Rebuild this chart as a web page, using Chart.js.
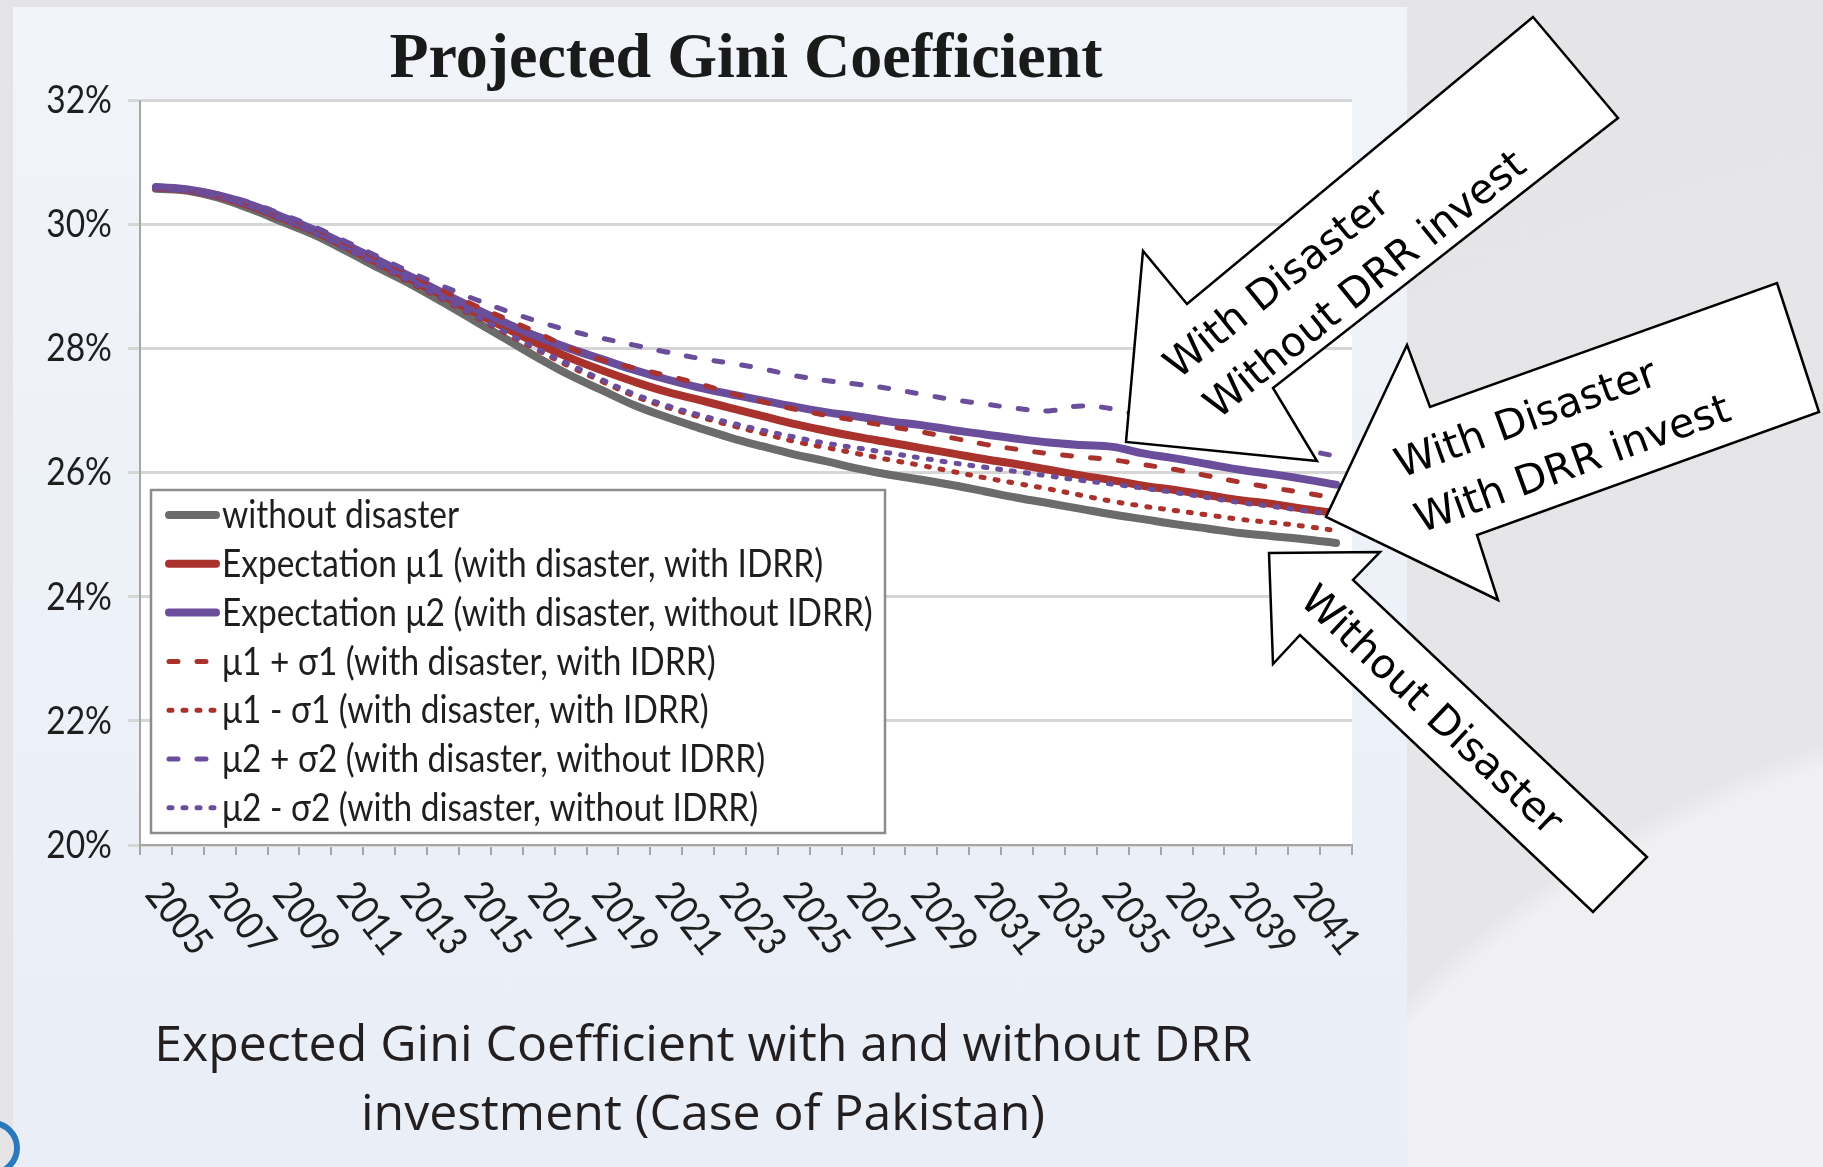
<!DOCTYPE html>
<html>
<head>
<meta charset="utf-8">
<script src="https://cdn.jsdelivr.net/npm/chart.js@4.4.0/dist/chart.umd.min.js"></script>
<style>
  html, body { margin: 0; padding: 0; }
  body { width: 1823px; height: 1167px; overflow: hidden; position: relative;
         background: radial-gradient(circle at 2150px 1750px, #f2f2f4 0, #f0f0f2 1035px, #e6e6e9 1060px, #e4e4e7 100%); }
  #panel { position: absolute; left: 13px; top: 7px; width: 1394px; height: 1160px;
           background: linear-gradient(#f1f4f9, #e9eef7); }
  #logo { position: absolute; left: -36px; top: 1120px; width: 44px; height: 44px;
          border: 6px solid #2a78bd; border-radius: 50%; }
  #caption { position: absolute; left: 103px; width: 1200px; top: 1008px; text-align: center;
             font-family: 'Open Sans', sans-serif; font-size: 50px; line-height: 69px; color: #231f20; }
  #gini { position: absolute; left: 0; top: 0; }
</style>
</head>
<body>
<div id="panel"></div>
<div id="logo"></div>
<div id="caption">Expected Gini Coefficient with and without DRR<br>investment (Case of Pakistan)</div>
<canvas id="gini" width="1823" height="1167"></canvas>
<script>
const years = ['2005', '2006', '2007', '2008', '2009', '2010', '2011', '2012', '2013', '2014',
  '2015', '2016', '2017', '2018', '2019', '2020', '2021', '2022', '2023', '2024',
  '2025', '2026', '2027', '2028', '2029', '2030', '2031', '2032', '2033', '2034',
  '2035', '2036', '2037', '2038', '2039', '2040', '2041', '2042'];

// Gini coefficient, %
const withoutDisaster = [30.58, 30.55, 30.43, 30.25, 30.04, 29.83, 29.57, 29.30, 29.04, 28.75,
  28.45, 28.15, 27.85, 27.57, 27.33, 27.09, 26.90, 26.73, 26.57, 26.43,
  26.30, 26.19, 26.07, 25.97, 25.89, 25.80, 25.70, 25.60, 25.51, 25.42,
  25.33, 25.25, 25.17, 25.10, 25.03, 24.98, 24.93, 24.87];
const mu1 = [30.60, 30.56, 30.46, 30.30, 30.10, 29.89, 29.64, 29.38, 29.12, 28.86,
  28.59, 28.33, 28.08, 27.85, 27.65, 27.47, 27.31, 27.18, 27.05, 26.92,
  26.79, 26.68, 26.58, 26.49, 26.40, 26.31, 26.22, 26.14, 26.05, 25.96,
  25.88, 25.79, 25.72, 25.64, 25.56, 25.50, 25.42, 25.35];
const mu2 = [30.61, 30.57, 30.47, 30.32, 30.12, 29.91, 29.67, 29.42, 29.16, 28.90,
  28.65, 28.41, 28.19, 28.00, 27.83, 27.66, 27.51, 27.38, 27.27, 27.17,
  27.07, 26.98, 26.91, 26.83, 26.77, 26.69, 26.62, 26.55, 26.49, 26.45,
  26.42, 26.31, 26.23, 26.14, 26.05, 25.98, 25.90, 25.81];
const mu1PlusSigma = [30.60, 30.57, 30.47, 30.33, 30.14, 29.94, 29.70, 29.45, 29.20, 28.94,
  28.70, 28.48, 28.25, 28.01, 27.82, 27.69, 27.57, 27.44, 27.29, 27.15,
  27.03, 26.93, 26.84, 26.75, 26.66, 26.56, 26.46, 26.38, 26.31, 26.26,
  26.21, 26.13, 26.05, 25.95, 25.85, 25.76, 25.68, 25.59];
const mu1MinusSigma = [30.60, 30.56, 30.45, 30.29, 30.08, 29.86, 29.60, 29.33, 29.06, 28.79,
  28.52, 28.24, 27.97, 27.71, 27.47, 27.24, 27.06, 26.91, 26.77, 26.64,
  26.51, 26.41, 26.31, 26.21, 26.12, 26.02, 25.92, 25.83, 25.74, 25.64,
  25.54, 25.46, 25.39, 25.32, 25.25, 25.20, 25.14, 25.07];
const mu2PlusSigma = [30.61, 30.58, 30.49, 30.35, 30.16, 29.96, 29.72, 29.48, 29.23, 29.01,
  28.80, 28.61, 28.44, 28.29, 28.17, 28.06, 27.95, 27.85, 27.77, 27.68,
  27.57, 27.49, 27.43, 27.36, 27.27, 27.18, 27.11, 27.04, 27.00, 27.08,
  27.03, 26.90, 26.78, 26.67, 26.56, 26.46, 26.37, 26.27];
const mu2MinusSigma = [30.60, 30.56, 30.45, 30.29, 30.08, 29.86, 29.60, 29.34, 29.08, 28.81,
  28.54, 28.26, 27.99, 27.74, 27.50, 27.27, 27.09, 26.94, 26.81, 26.69,
  26.58, 26.48, 26.40, 26.32, 26.24, 26.16, 26.09, 26.02, 25.95, 25.88,
  25.82, 25.75, 25.68, 25.60, 25.52, 25.46, 25.39, 25.32];

const GRAY = '#6b6b6b';
const RED = '#a9322d';
const PURPLE = '#6a4d9b';
const DASH = [9, 19];
const DOT = [3, 11];

// the original uses a tall, narrow office font: Lato squeezed sideways
const textFont = 'Lato, sans-serif';
const INK = '#1e1e1e';

function squeezedText(ctx, text, x, y, squeeze, angle) {
  ctx.save();
  ctx.translate(x, y);
  if (angle) ctx.rotate(angle * Math.PI / 180);
  ctx.scale(squeeze, 1);
  ctx.fillText(text, 0, 0);
  ctx.restore();
}

function solid(label, data, color) {
  return { label, data, borderColor: color, borderWidth: 8, borderCapStyle: 'round' };
}
function broken(label, data, color, dash) {
  return { label, data, borderColor: color, borderWidth: 5, borderDash: dash, borderCapStyle: 'round' };
}

const datasets = [
  solid('without disaster', withoutDisaster, GRAY),
  solid('Expectation \u03bc1 (with disaster, with IDRR)', mu1, RED),
  solid('Expectation \u03bc2 (with disaster, without IDRR)', mu2, PURPLE),
  broken('\u03bc1 + \u03c31 (with disaster, with IDRR)', mu1PlusSigma, RED, DASH),
  broken('\u03bc1 - \u03c31 (with disaster, with IDRR)', mu1MinusSigma, RED, DOT),
  broken('\u03bc2 + \u03c32 (with disaster, without IDRR)', mu2PlusSigma, PURPLE, DASH),
  broken('\u03bc2 - \u03c32 (with disaster, without IDRR)', mu2MinusSigma, PURPLE, DOT)
];
// Excel draws later series on top
datasets.forEach((d, i) => { d.order = datasets.length - i; });

// white plot area
const plotBackground = {
  id: 'plotBackground',
  beforeDraw(chart) {
    const { ctx, chartArea: a } = chart;
    ctx.save();
    ctx.fillStyle = '#ffffff';
    ctx.fillRect(a.left, a.top, a.right - a.left, a.bottom - a.top);
    ctx.restore();
  }
};

// axis labels: percent on y, every second year rotated on x
const axisLabels = {
  id: 'axisLabels',
  afterDraw(chart) {
    const ctx = chart.ctx;
    const xs = chart.scales.x, ys = chart.scales.y;
    ctx.save();
    ctx.fillStyle = INK;
    ctx.font = '39px ' + textFont;
    ctx.textAlign = 'right';
    ctx.textBaseline = 'middle';
    ys.ticks.forEach(t => {
      squeezedText(ctx, t.label, ys.right - 28, ys.getPixelForValue(t.value), 0.86);
    });
    ctx.font = '40px ' + textFont;
    ctx.textAlign = 'left';
    years.forEach((yr, i) => {
      if (i % 2) return;
      squeezedText(ctx, yr, xs.getPixelForValue(i) - 2, xs.top + 42, 0.86, 52);
    });
    ctx.restore();
  }
};

// legend box inside the plot
const boxLegend = {
  id: 'boxLegend',
  afterDatasetsDraw(chart) {
    const ctx = chart.ctx;
    const left = 151, top = 490, w = 734, h = 343, rowH = 48.8;
    ctx.save();
    ctx.fillStyle = '#ffffff';
    ctx.fillRect(left, top, w, h);
    ctx.strokeStyle = '#8c8c8c';
    ctx.lineWidth = 2.5;
    ctx.strokeRect(left, top, w, h);
    ctx.font = '38px ' + textFont;
    ctx.fillStyle = INK;
    ctx.textBaseline = 'middle';
    chart.data.datasets.forEach((d, i) => {
      const y = top + 25 + i * rowH;
      ctx.save();
      ctx.strokeStyle = d.borderColor;
      ctx.lineWidth = d.borderWidth;
      ctx.lineCap = 'round';
      ctx.setLineDash(d.borderDash || []);
      ctx.beginPath();
      ctx.moveTo(169, y);
      ctx.lineTo(216, y);
      ctx.stroke();
      ctx.restore();
      squeezedText(ctx, d.label, 222, y + 1, 0.88);
    });
    ctx.restore();
  }
};

// callout arrows drawn over the right side
const callouts = [
  { pts: [[1533, 17], [1618, 118], [1273, 388], [1317, 461], [1126, 442], [1143, 251], [1187, 304]],
    angle: -38.9, lines: [['With Disaster', 1178, 380], ['Without DRR invest', 1218, 420]], align: 'left' },
  { pts: [[1777, 283], [1819, 412], [1477, 535], [1498, 600], [1326, 517], [1407, 345], [1430, 407]],
    angle: -20, lines: [['With Disaster', 1401, 478], ['With DRR invest', 1421, 533]], align: 'left' },
  { pts: [[1269, 553], [1380, 552], [1353, 580], [1647, 857], [1593, 912], [1300, 635], [1273, 664]],
    angle: 43.3, lines: [['Without Disaster', 1430, 712]], align: 'center' }
];

const arrows = {
  id: 'arrows',
  afterDraw(chart) {
    const ctx = chart.ctx;
    ctx.save();
    callouts.forEach(c => {
      ctx.beginPath();
      c.pts.forEach((p, i) => i ? ctx.lineTo(p[0], p[1]) : ctx.moveTo(p[0], p[1]));
      ctx.closePath();
      ctx.fillStyle = '#ffffff';
      ctx.fill();
      ctx.lineWidth = 2.5;
      ctx.lineJoin = 'miter';
      ctx.strokeStyle = '#000000';
      ctx.stroke();
      ctx.fillStyle = '#000000';
      ctx.font = '41px "DejaVu Sans", sans-serif';
      ctx.textAlign = c.align;
      ctx.textBaseline = c.align === 'center' ? 'middle' : 'alphabetic';
      c.lines.forEach(([txt, x, y]) => {
        ctx.save();
        ctx.translate(x, y);
        ctx.rotate(c.angle * Math.PI / 180);
        ctx.fillText(txt, 0, 0);
        ctx.restore();
      });
    });
    ctx.restore();
  }
};

new Chart(document.getElementById('gini'), {
  type: 'line',
  data: { labels: years, datasets: datasets },
  options: {
    responsive: false,
    animation: false,
    layout: { padding: { left: 20, right: 471, top: 18, bottom: 0 } },
    elements: {
      point: { radius: 0 },
      line: { tension: 0.4, fill: false }
    },
    scales: {
      x: {
        offset: true,
        grid: { offset: true, drawOnChartArea: false, tickLength: 10, color: '#a6a6a6', lineWidth: 2 },
        border: { color: '#a6a6a6', width: 2 },
        ticks: { display: false },
        afterFit(scale) { scale.height = 322; }
      },
      y: {
        min: 20,
        max: 32,
        ticks: { display: false, stepSize: 2, callback: v => v + '%' },
        grid: { color: '#d6d6d6', lineWidth: 3, tickLength: 12 },
        border: { color: '#a6a6a6', width: 2 },
        afterFit(scale) { scale.width = 120; }
      }
    },
    plugins: {
      legend: { display: false },
      tooltip: { enabled: false },
      title: {
        display: true,
        fullSize: false,
        text: 'Projected Gini Coefficient',
        color: '#1a1a1a',
        font: { family: '"Liberation Serif", serif', size: 64, weight: 'bold' },
        padding: { top: 4, bottom: 2 }
      }
    }
  },
  plugins: [plotBackground, boxLegend, axisLabels, arrows]
});
</script>
</body>
</html>
